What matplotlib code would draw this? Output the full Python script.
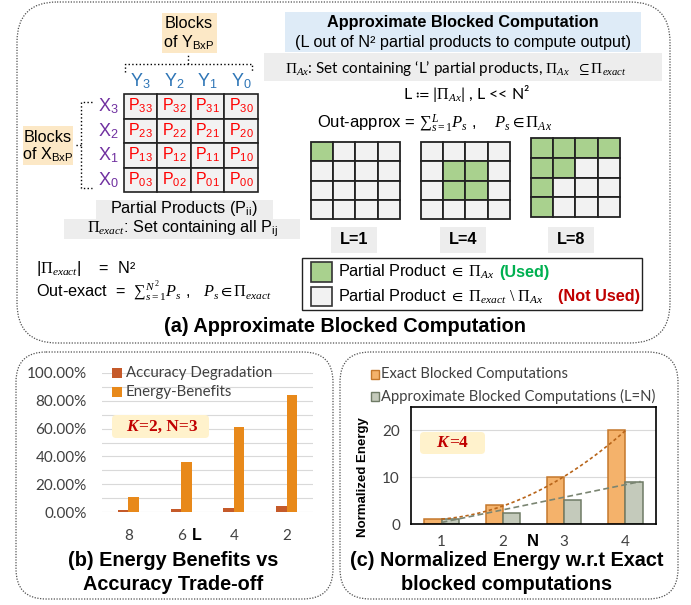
import numpy as np
import matplotlib
matplotlib.use('Agg')
import matplotlib.pyplot as plt
from matplotlib.patches import FancyBboxPatch, Rectangle

plt.rcParams['mathtext.fontset'] = 'custom'
plt.rcParams['mathtext.rm'] = 'Liberation Serif'
plt.rcParams['mathtext.it'] = 'Liberation Serif:italic'
plt.rcParams['mathtext.bf'] = 'Liberation Serif:bold'
plt.rcParams['mathtext.sf'] = 'Liberation Sans'
plt.rcParams['mathtext.fallback'] = 'stix'
plt.rcParams['font.family'] = ['Liberation Sans', 'DejaVu Sans']

# chart (b): energy benefits vs accuracy
L_vals = ['8', '6', '4', '2']
acc_deg = [1.2, 2.0, 2.6, 4.5]
energy_ben = [10.6, 35.7, 61.4, 84.4]

# chart (c): normalized energy
N_vals = ['1', '2', '3', '4']
exact_energy = [1.0, 4.0, 10.0, 20.0]
approx_energy = [1.0, 2.3, 5.2, 9.0]

# block indices and used cells of the small grids
blk = ['3', '2', '1', '0']
used_L1 = [(0, 0)]
used_L4 = [(1, 1), (1, 2), (2, 1), (2, 2)]
used_L8 = [(0, 0), (0, 1), (0, 2), (0, 3), (1, 0), (1, 1), (2, 0), (3, 0)]

W, H = 691, 605
fig = plt.figure(figsize=(W / 100, H / 100), dpi=100)


def px_rect(x0, y0, x1, y1):
    return [x0 / W, (H - y1) / H, (x1 - x0) / W, (y1 - y0) / H]


GREY_TXT = '#404040'
FS = 11.7

# ---- chart (b)
axb = fig.add_axes(px_rect(102, 373, 313, 512))
axb.set_facecolor('none')
x = np.arange(len(L_vals))
axb.bar(x - 0.1, acc_deg, 0.2, color='#C55A2A', zorder=2)
axb.bar(x + 0.1, energy_ben, 0.2, color='#E8891A', zorder=2)
axb.set_xlim(-0.5, 3.5)
axb.set_ylim(0, 100)
axb.set_yticks(np.arange(0, 101, 20))
axb.set_yticklabels([f'{v:.2f}%' for v in np.arange(0, 101, 20)], fontfamily='Lato', fontsize=11, color=GREY_TXT)
axb.set_yticks(np.arange(0, 101, 10), minor=True)
axb.set_xticks(x)
axb.set_xticklabels(L_vals, fontfamily='Lato', fontsize=11, color=GREY_TXT)
axb.grid(axis='y', which='both', color='#D9D9D9', lw=0.8, zorder=0)
axb.set_axisbelow(True)
for s in axb.spines.values():
    s.set_visible(False)
axb.tick_params(which='both', length=0)
axb.tick_params(axis='y', pad=11)
axb.tick_params(axis='x', pad=12)

# ---- chart (c)
axc = fig.add_axes(px_rect(411, 407, 656, 524))
axc.set_facecolor('none')
bw = 0.28
axc.bar(x - bw / 2, exact_energy, bw, color='#F4B26B', edgecolor='#C5782C', lw=1.1, zorder=2)
axc.bar(x + bw / 2, approx_energy, bw, color='#C4CABB', edgecolor='#6F7B66', lw=1.1, zorder=2)
xs = np.linspace(0, 3, 60)
axc.plot(xs, np.polyval(np.polyfit(x, exact_energy, 2), xs), ls=(0, (2, 1.6)), color='#B8651A', lw=1.2, zorder=3)
xs2 = np.linspace(0, 3.25, 60)
axc.plot(xs2, np.polyval(np.polyfit(x, approx_energy, 1), xs2), ls=(0, (3.5, 2)), color='#7A8572', lw=1.2, zorder=3)
axc.set_xlim(-0.5, 3.5)
axc.set_ylim(0, 25)
axc.set_yticks([0, 10, 20])
axc.set_yticklabels(['0', '10', '20'], fontfamily='Lato', fontsize=11, color=GREY_TXT)
axc.set_xticks(x)
axc.set_xticklabels(N_vals, fontfamily='Lato', fontsize=11, color=GREY_TXT)
axc.grid(axis='y', color='#D9D9D9', lw=0.8, zorder=0)
axc.set_axisbelow(True)
for s in axc.spines.values():
    s.set_color('black')
    s.set_linewidth(1.2)
axc.tick_params(length=0)
axc.tick_params(axis='y', pad=8)
axc.tick_params(axis='x', pad=8)

# ---- overlay in pixel coordinates
ov = fig.add_axes([0, 0, 1, 1])
ov.set_facecolor('none')
ov.set_xlim(0, W)
ov.set_ylim(H, 0)
ov.axis('off')


def box(x0, y0, x1, y1, fc, ec='none', r=0, lw=1.0, ls='-', z=1):
    if r:
        p = FancyBboxPatch((x0, y0), x1 - x0, y1 - y0,
                           boxstyle=f'round,pad=0,rounding_size={r}',
                           fc=fc, ec=ec, lw=lw, ls=ls, zorder=z)
    else:
        p = Rectangle((x0, y0), x1 - x0, y1 - y0, fc=fc, ec=ec, lw=lw, ls=ls, zorder=z)
    ov.add_patch(p)


def txt(x, y, s, size=FS, ha='center', **kw):
    ov.text(x, y, s, fontsize=size, ha=ha, va='center', zorder=5, **kw)


# dotted panel outlines
dot = (0, (1, 1.2))
box(17, 2, 670, 343, 'none', ec='#505050', r=40, lw=0.9, ls=dot)
box(16, 352, 333, 599, 'none', ec='#505050', r=30, lw=0.9, ls=dot)
box(340, 352, 678, 599, 'none', ec='#505050', r=30, lw=0.9, ls=dot)

# block labels
box(162, 13, 217, 53, '#FCE8C6')
txt(189, 24, 'Blocks')
txt(189, 43, r'of Y$_{\mathsf{BxP}}$')
box(23, 126, 73, 165, '#FCE8C6')
txt(48, 137, 'Blocks')
txt(48, 155, r'of X$_{\mathsf{BxP}}$')

# brackets
ov.plot([125, 125, 252, 252], [72, 64, 64, 72], ls=':', color='k', lw=1)
ov.plot([188, 188], [64, 55], ls=':', color='k', lw=1)
ov.plot([92, 81, 81, 92], [102, 102, 188, 188], ls=':', color='k', lw=1)
ov.plot([81, 74], [145, 145], ls=':', color='k', lw=1)

# main partial product grid
gx, gy, cw, ch = 124, 94, 33.5, 24.5
for r in range(4):
    for c in range(4):
        box(gx + c * cw, gy + r * ch, gx + (c + 1) * cw, gy + (r + 1) * ch, '#F2F2F2', ec='#222222', lw=1.2)
        txt(gx + (c + 0.5) * cw, gy + (r + 0.5) * ch, 'P$_{\\mathsf{' + blk[r] + blk[c] + '}}$', size=11.5, color='#FF0000')
for i in range(4):
    txt(gx + (i + 0.5) * cw, 81, 'Y$_{\\mathsf{' + blk[i] + '}}$', size=13, color='#2E75B6')
    txt(108, gy + (i + 0.5) * ch, 'X$_{\\mathsf{' + blk[i] + '}}$', size=13, color='#7030A0')

box(96, 200, 273, 219, '#EDEDED')
txt(184, 209, r'Partial Products (P$_{\mathsf{ii}}$)')
box(64, 219, 300, 239, '#EDEDED')
txt(182, 229, r'$\Pi_{exact}$: Set containing all P$_{\mathsf{ij}}$')

txt(36, 269, r'|$\Pi_{exact}$|    =  N²', ha='left')
txt(36, 292, r'Out-exact  =  ${\sum}_{s=1}^{N^2} P_s$ ,   $P_s \in \Pi_{exact}$', ha='left')

# approximate computation header
box(285, 12, 641, 52, '#DEEBF7')
txt(463, 23, 'Approximate Blocked Computation', weight='bold')
txt(463, 42, '(L out of N² partial products to compute output)')
box(264, 53, 662, 81, '#EDEDED')
txt(285, 68, r'$\Pi_{Ax}$: Set containing ‘L’ partial products, $\Pi_{Ax}$  $\subseteq\Pi_{exact}$',
    ha='left', size=11, family='Lato')
txt(467, 94, r'L $≔$ |$\Pi_{Ax}$| , L << N²', size=11.5, family='Lato')
txt(317, 124, r'Out-approx = ${\sum}_{s=1}^{L} P_s$ ,    $P_s \in \Pi_{Ax}$', ha='left', size=12)

# small grids
for (sx, sy, sh, used, lab, lx) in [(311, 142, 19.25, used_L1, 'L=1', 354),
                                    (421, 142, 19.25, used_L4, 'L=4', 463),
                                    (531, 138, 19.75, used_L8, 'L=8', 571)]:
    sw = 22.25
    for r in range(4):
        for c in range(4):
            fc = '#A9D18E' if (r, c) in used else '#F2F2F2'
            box(sx + c * sw, sy + r * sh, sx + (c + 1) * sw, sy + (r + 1) * sh, fc, ec='#222222', lw=1.3)
    box(lx - 23, 227, lx + 23, 253, '#EDEDED')
    txt(lx, 240, lab, weight='bold')

# legend of the small grids
box(302, 258, 642, 310, 'white', ec='#222222', lw=1)
box(311, 262, 332, 282, '#A9D18E', ec='#333333', lw=1.2, z=2)
box(311, 287, 332, 306, '#F2F2F2', ec='#333333', lw=1.2, z=2)
txt(338, 272, r'Partial Product $\in\ \Pi_{Ax}$', ha='left')
txt(499, 272, '(Used)', ha='left', weight='bold', color='#00B050')
txt(338, 297, r'Partial Product $\in\ \Pi_{exact}\ \backslash\ \Pi_{Ax}$', ha='left')
txt(558, 297, '(Not Used)', ha='left', weight='bold', color='#C00000')

txt(345, 327, '(a) Approximate Blocked Computation', size=14.3, weight='bold')

# chart (b) annotations
box(112, 368, 122, 378, '#C55A2A')
txt(126, 373, 'Accuracy Degradation', ha='left', size=10.8, family='Lato', color=GREY_TXT)
box(112, 387, 122, 397, '#E8891A')
txt(126, 392, 'Energy-Benefits', ha='left', size=10.8, family='Lato', color=GREY_TXT)
box(112, 415, 209, 438, '#FFF2CC', r=4, z=4)
txt(138, 427, 'K', ha='right', size=12.5, family='Liberation Serif', weight='bold', style='italic', color='#C00000')
txt(139, 427, '=2, N=3', ha='left', size=12.5, family='Liberation Serif', weight='bold', color='#C00000')
txt(197, 535, 'L', size=11.5, weight='bold')
txt(173, 560, '(b) Energy Benefits vs', size=14.3, weight='bold')
txt(173, 585, 'Accuracy Trade-off', size=14.3, weight='bold')

# chart (c) annotations
box(371, 370, 379, 379, '#F4B26B', ec='#C5782C', lw=1)
txt(381, 374, 'Exact Blocked Computations', ha='left', size=10.6, family='Lato', color=GREY_TXT)
box(371, 392, 379, 401, '#C4CABB', ec='#6F7B66', lw=1)
txt(381, 396, 'Approximate Blocked Computations (L=N)', ha='left', size=10.6, family='Lato', color=GREY_TXT)
box(420, 432, 485, 454, '#FFF2CC', r=4, z=4)
txt(448, 443, 'K', ha='right', size=12.5, family='Liberation Serif', weight='bold', style='italic', color='#C00000')
txt(449, 443, '=4', ha='left', size=12.5, family='Liberation Serif', weight='bold', color='#C00000')
txt(363, 477, 'Normalized Energy', size=9.5, weight='bold', rotation=90)
txt(533, 541, 'N', size=12, weight='bold')
txt(507, 560, '(c) Normalized Energy w.r.t Exact', size=14.3, weight='bold')
txt(507, 585, 'blocked computations', size=14.3, weight='bold')

fig.savefig('out.png', dpi=100)
